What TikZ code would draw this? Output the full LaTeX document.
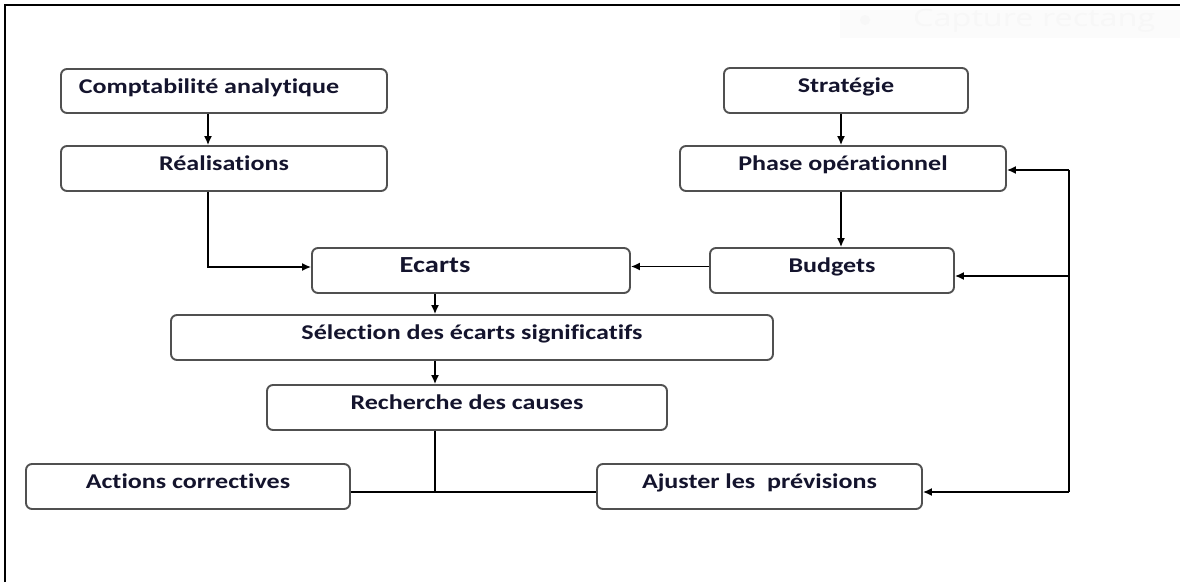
\documentclass[tikz,border=0pt]{standalone}
\usepackage{fontspec}
\newfontfamily\boxfont{Carlito}[FakeStretch=1.24, Ligatures=NoCommon]
\newfontfamily\snipfont{Open Sans}[FakeStretch=1.35]
\usetikzlibrary{arrows.meta}
\definecolor{boxline}{RGB}{80,80,80}
\definecolor{boxtext}{RGB}{20,20,45}
\tikzset{
	box/.style={draw=boxline, line width=1.9pt, rounded corners=6pt, fill=white, inner sep=0pt,
		text height=14pt, text depth=10pt,
		font=\boxfont\bfseries\fontsize{21}{21}\selectfont, text=boxtext},
	link/.style={line width=1.5pt, -{Latex[length=9pt,width=8pt]}},
	plain/.style={line width=1.5pt}
}

\begin{document}
\begin{tikzpicture}[x=1pt, y=-1pt]
		%%%%% START %%%%%
		\useasboundingbox (0,0) rectangle (1180,582);
		
		% faint snipping-tool banner
		\fill[black!1.5] (840,10) rectangle (1180,38);
		\fill[black!3] (865,20) circle (5);
		\node[anchor=west, inner sep=0pt, text=black!3, font=\snipfont\fontsize{24}{24}\selectfont] (snip) at (913,21) {Capture rectang};
		
		\draw[line width=2pt] (5,582) -- (5,5) -- (1180,5);
		
		% left column
		\node[box, minimum width=326, minimum height=44] (compta) at (224,91) {Comptabilit\'e analytique\hspace*{30pt}};
		\node[box, minimum width=326, minimum height=45] (real) at (224,168.5) {R\'ealisations};
		
		% right column
		\node[box, minimum width=244, minimum height=45] (strat) at (846,90.5) {Strat\'egie};
		\node[box, minimum width=326, minimum height=45] (phase) at (843,168.5) {Phase op\'erationnel};
		\node[box, minimum width=244, minimum height=45] (budgets) at (832,270.5) {Budgets};
		
		% middle
		\node[box, minimum width=318, minimum height=45, font=\boxfont\bfseries\fontsize{23}{23}\selectfont] (ecarts) at (471,270.5) {Ecarts\hspace*{72pt}};
		\node[box, minimum width=602, minimum height=45] (select) at (472,337.5) {S\'election des \'ecarts significatifs};
		\node[box, minimum width=400, minimum height=45] (rech) at (467,407.5) {Recherche des causes};
		
		% bottom row
		\node[box, minimum width=324, minimum height=45] (actions) at (188,486.5) {Actions correctives};
		\node[box, minimum width=325, minimum height=45] (ajust) at (759.5,486.5) {Ajuster les\ \ pr\'evisions};
		
		\coordinate (leftcol) at (208,0);
		\coordinate (rightcol) at (841,0);
		\coordinate (spine) at (435,0);
		\coordinate (junction) at (435,492);
		\coordinate (looptop) at (1069,170);
		\coordinate (loopmid) at (1069,276);
		\coordinate (loopbot) at (1069,492);
		
		\draw[link] (compta.south -| leftcol) -- (real.north -| leftcol);
		\draw[link] (real.south -| leftcol) |- ([yshift=3.5pt]ecarts.west);
		\draw[link] (strat.south -| rightcol) -- (phase.north -| rightcol);
		\draw[link] (phase.south -| rightcol) -- (budgets.north -| rightcol);
		\draw[link] ([yshift=4pt]budgets.west) -- ([yshift=4pt]ecarts.east);
		\draw[link] (ecarts.south -| spine) -- (select.north -| spine);
		\draw[link] (select.south -| spine) -- (rech.north -| spine);
		
		\draw[plain] (rech.south -| spine) -- (junction);
		\draw[plain] (actions.east |- junction) -- (ajust.west |- junction);
		
		% feedback loop
		\draw[plain] (looptop) -- (loopbot);
		\draw[link] (looptop) -- (phase.east |- looptop);
		\draw[link] (loopmid) -- (budgets.east |- loopmid);
		\draw[link] (loopbot) -- (ajust.east |- loopbot);
		%%%%% END %%%%%
\end{tikzpicture}
\end{document}
